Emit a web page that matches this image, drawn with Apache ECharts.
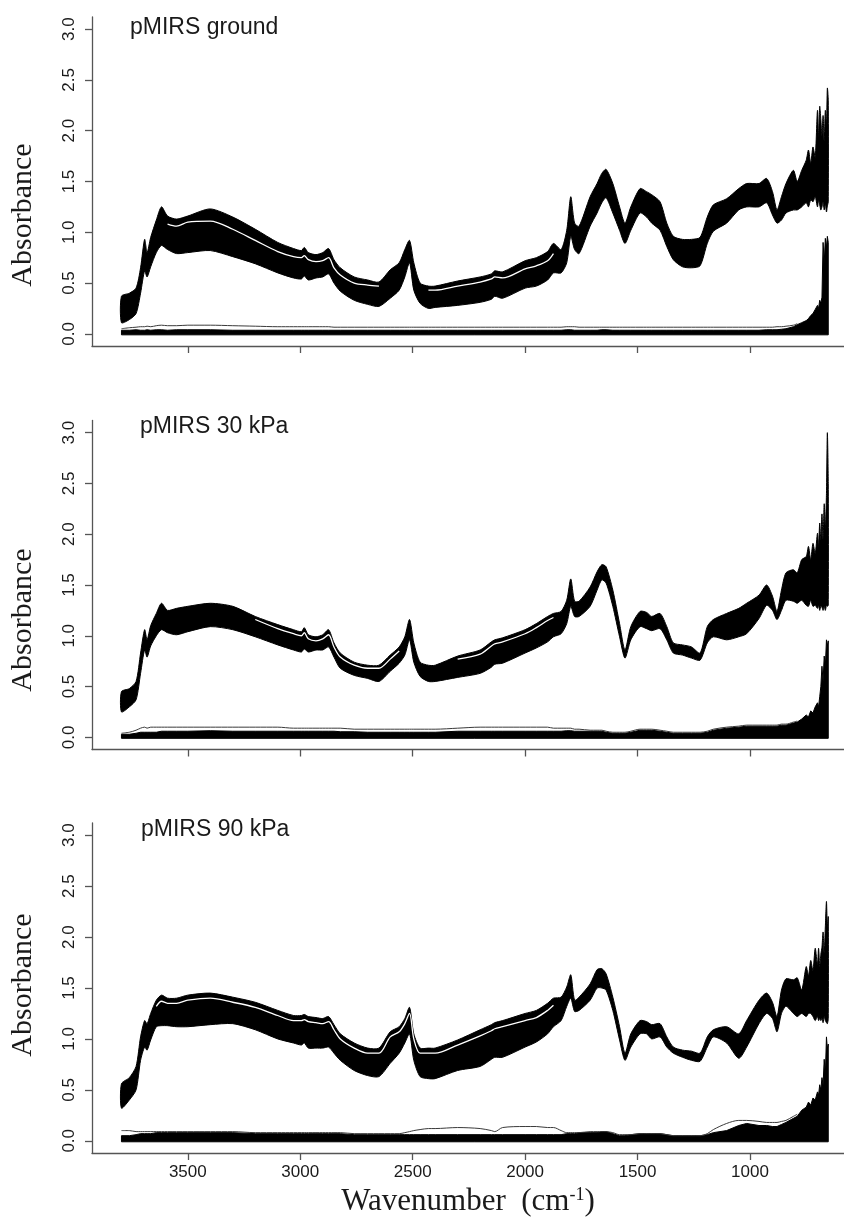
<!DOCTYPE html>
<html><head><meta charset="utf-8">
<script src="https://cdn.jsdelivr.net/npm/echarts@6/dist/echarts.min.js"></script>
<style>html,body{margin:0;padding:0;background:#fff}#c{width:844px;height:1224px}</style>
</head><body><div id="c"></div>
<script>
// ---------- data ----------
const wavenumbers = [3795, 3760, 3730, 3710, 3692, 3681, 3665, 3640, 3617, 3590,
 3550, 3500, 3400, 3300, 3200, 3100, 3030, 2995, 2982, 2964,
 2930, 2900, 2874, 2850, 2822, 2760, 2700, 2650, 2600, 2560,
 2535, 2514, 2495, 2467, 2430, 2400, 2300, 2200, 2150, 2135,
 2100, 2000, 1950, 1900, 1874, 1840, 1815, 1797, 1780, 1760,
 1711, 1680, 1659, 1640, 1610, 1580, 1556, 1530, 1489, 1460,
 1437, 1400, 1370, 1341, 1300, 1260, 1222, 1190, 1163, 1104,
 1050, 1015, 960, 926, 900, 880, 860, 840, 807, 790,
 770, 750, 740, 730, 720, 710, 700, 695, 690, 685,
 680, 675, 670, 665, 660, 656, 652];

// pMIRS ground: upper / lower envelope of the spectra band
const groundUpper = [0.37, 0.40, 0.45, 0.65, 0.93, 0.80, 0.95, 1.12, 1.25, 1.16,
 1.13, 1.16, 1.23, 1.15, 1.03, 0.90, 0.84, 0.82, 0.85, 0.80,
 0.78, 0.80, 0.84, 0.73, 0.65, 0.56, 0.53, 0.51, 0.63, 0.70,
 0.83, 0.92, 0.70, 0.50, 0.47, 0.47, 0.52, 0.56, 0.59, 0.62,
 0.61, 0.72, 0.75, 0.81, 0.89, 0.83, 1.02, 1.35, 1.09, 1.06,
 1.35, 1.48, 1.58, 1.62, 1.48, 1.25, 1.09, 1.25, 1.43, 1.40,
 1.37, 1.30, 1.09, 0.96, 0.93, 0.93, 0.95, 1.15, 1.27, 1.33,
 1.43, 1.48, 1.48, 1.53, 1.40, 1.22, 1.35, 1.48, 1.61, 1.50,
 1.61, 1.71, 1.81, 1.68, 1.84, 1.74, 2.20, 1.94, 2.24, 2.11,
 1.95, 2.15, 1.90, 2.20, 2.05, 2.42, 2.30];
const groundLower = [0.11, 0.14, 0.20, 0.40, 0.62, 0.56, 0.66, 0.80, 0.87, 0.83,
 0.79, 0.80, 0.82, 0.76, 0.69, 0.60, 0.55, 0.54, 0.57, 0.53,
 0.55, 0.56, 0.59, 0.50, 0.42, 0.33, 0.29, 0.27, 0.35, 0.43,
 0.56, 0.70, 0.43, 0.30, 0.25, 0.26, 0.28, 0.31, 0.34, 0.37,
 0.35, 0.45, 0.47, 0.53, 0.60, 0.60, 0.70, 0.96, 0.83, 0.79,
 1.06, 1.19, 1.29, 1.34, 1.19, 1.02, 0.89, 1.02, 1.19, 1.15,
 1.09, 1.02, 0.86, 0.73, 0.66, 0.65, 0.67, 0.89, 1.01, 1.09,
 1.22, 1.25, 1.25, 1.29, 1.17, 1.09, 1.12, 1.19, 1.22, 1.22,
 1.25, 1.29, 1.25, 1.32, 1.30, 1.35, 1.25, 1.32, 1.27, 1.22,
 1.25, 1.30, 1.22, 1.28, 1.20, 1.26, 1.30];
// white gaps between individual spectra inside the band (null = no visible gap)
const groundGap = [null, null, null, null, null, null, null, null, null, 1.08,
 1.06, 1.10, 1.11, 1.03, 0.92, 0.81, 0.76, 0.75, 0.77, 0.73,
 0.71, 0.72, 0.75, 0.65, 0.58, 0.50, 0.48, 0.47, null, null,
 null, null, null, null, 0.43, 0.43, 0.47, 0.51, 0.54, 0.56,
 0.55, 0.64, 0.67, 0.72, 0.79];
// residual spectra near zero: top of the dark band, and the thin outline spectrum above it
const groundNoise = [0.035, 0.035, 0.04, 0.035, 0.035, 0.04, 0.035, 0.04, 0.04, 0.035,
 0.04, 0.04, 0.04, 0.035, 0.035, 0.035, 0.035, 0.035, 0.035, 0.035,
 0.035, 0.035, 0.035, 0.035, 0.035, 0.035, 0.035, 0.035, 0.035, 0.035,
 0.035, 0.035, 0.035, 0.035, 0.035, 0.035, 0.035, 0.035, 0.035, 0.035,
 0.035, 0.035, 0.035, 0.035, 0.035, 0.035, 0.04, 0.04, 0.035, 0.035,
 0.035, 0.035, 0.04, 0.04, 0.035, 0.035, 0.035, 0.035, 0.035, 0.035,
 0.035, 0.035, 0.035, 0.035, 0.035, 0.035, 0.035, 0.035, 0.035, 0.035,
 0.035, 0.035, 0.035, 0.04, 0.04, 0.04, 0.045, 0.05, 0.07, 0.09,
 0.11, 0.13, 0.15, 0.18, 0.20, 0.24, 0.28, 0.25, 0.33, 0.30,
 0.36, 0.90, 0.70, 0.94, 0.85, 0.96, 0.90];
const groundNoiseLine = [0.05, 0.06, 0.065, 0.07, 0.07, 0.075, 0.07, 0.08, 0.085, 0.08,
 0.08, 0.085, 0.085, 0.08, 0.075, 0.07, 0.07, 0.07, 0.07, 0.07,
 0.07, 0.07, 0.07, 0.065, 0.065, 0.065, 0.065, 0.065, 0.065, 0.065,
 0.065, 0.065, 0.065, 0.065, 0.065, 0.065, 0.065, 0.065, 0.065, 0.065,
 0.065, 0.065, 0.065, 0.065, 0.065, 0.065, 0.07, 0.07, 0.07, 0.065,
 0.065, 0.065, 0.065, 0.065, 0.065, 0.065, 0.065, 0.065, 0.065, 0.065,
 0.065, 0.065, 0.065, 0.065, 0.065, 0.065, 0.065, 0.065, 0.065, 0.065,
 0.065, 0.065, 0.065, 0.065, 0.065, 0.07, 0.07, 0.075, 0.085, 0.10];

// pMIRS 30 kPa
const kpa30Upper = [0.45, 0.48, 0.55, 0.83, 1.06, 0.96, 1.10, 1.22, 1.32, 1.25,
 1.27, 1.29, 1.32, 1.29, 1.19, 1.11, 1.06, 1.04, 1.08, 1.01,
 0.99, 1.01, 1.06, 0.93, 0.83, 0.74, 0.71, 0.71, 0.81, 0.89,
 0.99, 1.16, 0.93, 0.74, 0.71, 0.71, 0.80, 0.86, 0.94, 0.96,
 0.98, 1.06, 1.12, 1.19, 1.22, 1.24, 1.35, 1.56, 1.34, 1.34,
 1.48, 1.63, 1.70, 1.68, 1.45, 1.12, 0.86, 1.09, 1.24, 1.23,
 1.19, 1.22, 1.09, 0.93, 0.91, 0.89, 0.83, 1.09, 1.16, 1.22,
 1.27, 1.32, 1.40, 1.50, 1.39, 1.24, 1.45, 1.62, 1.65, 1.62,
 1.75, 1.78, 1.88, 1.75, 1.91, 1.81, 2.01, 1.88, 2.11, 1.94,
 2.20, 1.95, 2.30, 2.05, 2.40, 3.00, 2.50];
const kpa30Lower = [0.25, 0.30, 0.37, 0.63, 0.86, 0.79, 0.90, 1.00, 1.06, 1.03,
 1.01, 1.04, 1.09, 1.06, 0.99, 0.91, 0.86, 0.84, 0.87, 0.84,
 0.86, 0.86, 0.89, 0.79, 0.68, 0.61, 0.58, 0.55, 0.65, 0.73,
 0.81, 0.96, 0.74, 0.60, 0.55, 0.55, 0.59, 0.63, 0.69, 0.72,
 0.73, 0.83, 0.88, 0.94, 0.99, 1.02, 1.12, 1.29, 1.19, 1.19,
 1.29, 1.45, 1.55, 1.52, 1.29, 0.99, 0.78, 0.96, 1.09, 1.07,
 1.05, 1.07, 0.96, 0.83, 0.81, 0.78, 0.76, 0.93, 0.99, 0.96,
 0.99, 1.02, 1.17, 1.30, 1.25, 1.16, 1.25, 1.35, 1.34, 1.32,
 1.35, 1.30, 1.29, 1.35, 1.29, 1.30, 1.27, 1.30, 1.25, 1.29,
 1.28, 1.25, 1.29, 1.25, 1.30, 1.29, 1.30];
const kpa30Gap = [null, null, null, null, null, null, null, null, null, null,
 null, null, null, null, 1.16, 1.07, 1.02, 1.00, 1.03, 0.97,
 0.95, 0.97, 1.01, 0.89, 0.79, 0.71, 0.68, 0.68, 0.77, 0.85,
 null, null, null, null, null, null, 0.77, 0.82, 0.90, 0.92,
 0.94, 1.02, 1.08, 1.15, 1.18];
const kpa30Noise = [0.03, 0.03, 0.04, 0.05, 0.05, 0.05, 0.05, 0.05, 0.06, 0.06,
 0.06, 0.06, 0.065, 0.06, 0.06, 0.06, 0.06, 0.06, 0.06, 0.06,
 0.06, 0.06, 0.06, 0.06, 0.055, 0.055, 0.05, 0.05, 0.05, 0.05,
 0.05, 0.05, 0.05, 0.05, 0.05, 0.05, 0.06, 0.06, 0.06, 0.06,
 0.06, 0.06, 0.06, 0.06, 0.06, 0.06, 0.065, 0.065, 0.06, 0.06,
 0.06, 0.06, 0.06, 0.05, 0.04, 0.04, 0.04, 0.05, 0.07, 0.07,
 0.07, 0.06, 0.05, 0.04, 0.04, 0.04, 0.04, 0.05, 0.07, 0.09,
 0.10, 0.11, 0.11, 0.11, 0.11, 0.11, 0.12, 0.12, 0.14, 0.15,
 0.18, 0.22, 0.20, 0.26, 0.24, 0.30, 0.34, 0.30, 0.40, 0.50,
 0.70, 0.55, 0.80, 0.70, 0.96, 0.90, 0.95];
const kpa30NoiseLine = [0.04, 0.05, 0.07, 0.09, 0.10, 0.09, 0.10, 0.10, 0.10, 0.10,
 0.10, 0.10, 0.10, 0.10, 0.10, 0.10, 0.09, 0.09, 0.09, 0.09,
 0.09, 0.09, 0.09, 0.09, 0.09, 0.08, 0.08, 0.08, 0.08, 0.08,
 0.08, 0.08, 0.08, 0.08, 0.08, 0.08, 0.09, 0.10, 0.10, 0.10,
 0.10, 0.10, 0.10, 0.10, 0.09, 0.09, 0.09, 0.09, 0.08, 0.08,
 0.07, 0.07, 0.07, 0.06, 0.05, 0.05, 0.05, 0.06, 0.08, 0.08,
 0.08, 0.07, 0.06, 0.05, 0.05, 0.05, 0.05, 0.06, 0.08, 0.10,
 0.11, 0.12, 0.12, 0.12, 0.12, 0.12, 0.13, 0.13, 0.15, 0.16];

// pMIRS 90 kPa
const kpa90Upper = [0.56, 0.62, 0.73, 1.02, 1.18, 1.15, 1.25, 1.38, 1.43, 1.40,
 1.40, 1.43, 1.45, 1.41, 1.36, 1.28, 1.23, 1.23, 1.24, 1.22,
 1.21, 1.20, 1.22, 1.14, 1.05, 0.96, 0.91, 0.91, 1.07, 1.12,
 1.20, 1.31, 1.05, 0.91, 0.91, 0.91, 0.99, 1.09, 1.14, 1.16,
 1.18, 1.25, 1.28, 1.35, 1.40, 1.41, 1.51, 1.63, 1.38, 1.41,
 1.54, 1.68, 1.69, 1.64, 1.41, 1.12, 0.86, 1.05, 1.18, 1.17,
 1.14, 1.15, 1.02, 0.92, 0.89, 0.88, 0.86, 1.02, 1.09, 1.12,
 1.05, 1.18, 1.38, 1.45, 1.36, 1.22, 1.48, 1.59, 1.58, 1.60,
 1.48, 1.71, 1.62, 1.77, 1.67, 1.89, 1.73, 1.89, 1.71, 1.83,
 1.90, 2.05, 1.85, 2.10, 2.35, 2.10, 2.20];
const kpa90Lower = [0.32, 0.40, 0.50, 0.79, 0.92, 0.89, 0.99, 1.12, 1.13, 1.13,
 1.12, 1.12, 1.14, 1.15, 1.09, 1.00, 0.96, 0.94, 0.96, 0.91,
 0.91, 0.91, 0.92, 0.86, 0.79, 0.69, 0.64, 0.63, 0.76, 0.86,
 0.96, 1.05, 0.79, 0.63, 0.61, 0.61, 0.69, 0.73, 0.80, 0.82,
 0.82, 0.92, 0.97, 1.05, 1.12, 1.18, 1.32, 1.40, 1.27, 1.28,
 1.38, 1.50, 1.50, 1.48, 1.28, 0.99, 0.79, 0.92, 1.05, 1.05,
 1.00, 1.02, 0.92, 0.86, 0.82, 0.79, 0.78, 0.92, 1.02, 0.96,
 0.81, 0.92, 1.15, 1.25, 1.20, 1.07, 1.25, 1.32, 1.25, 1.22,
 1.25, 1.22, 1.25, 1.25, 1.22, 1.18, 1.22, 1.18, 1.20, 1.18,
 1.20, 1.16, 1.22, 1.18, 1.16, 1.15, 1.20];
const kpa90Gap = [null, null, null, null, null, null, null, 1.32, 1.37, 1.35,
 1.35, 1.38, 1.40, 1.36, 1.31, 1.23, 1.18, 1.18, 1.19, 1.17,
 1.16, 1.15, 1.17, 1.09, 1.00, 0.91, 0.86, 0.86, 1.02, 1.07,
 1.15, 1.25, 1.00, 0.86, 0.86, 0.86, 0.94, 1.03, 1.08, 1.10,
 1.12, 1.18, 1.21, 1.28, 1.33];
const kpa90Noise = [0.05, 0.05, 0.06, 0.07, 0.07, 0.07, 0.07, 0.08, 0.08, 0.08,
 0.08, 0.08, 0.08, 0.08, 0.07, 0.07, 0.07, 0.07, 0.07, 0.07,
 0.07, 0.07, 0.07, 0.07, 0.07, 0.06, 0.06, 0.06, 0.06, 0.06,
 0.06, 0.06, 0.06, 0.06, 0.06, 0.06, 0.06, 0.06, 0.06, 0.06,
 0.06, 0.06, 0.06, 0.06, 0.06, 0.06, 0.07, 0.07, 0.07, 0.08,
 0.08, 0.08, 0.09, 0.09, 0.07, 0.05, 0.05, 0.06, 0.07, 0.07,
 0.07, 0.07, 0.06, 0.05, 0.05, 0.05, 0.05, 0.06, 0.08, 0.10,
 0.15, 0.17, 0.15, 0.15, 0.14, 0.14, 0.16, 0.18, 0.22, 0.24,
 0.30, 0.33, 0.38, 0.35, 0.42, 0.40, 0.48, 0.45, 0.55, 0.50,
 0.62, 0.55, 0.80, 0.65, 1.02, 0.90, 0.95];
const kpa90NoiseLine = [0.10, 0.10, 0.09, 0.09, 0.09, 0.09, 0.09, 0.09, 0.09, 0.09,
 0.09, 0.09, 0.09, 0.09, 0.08, 0.08, 0.08, 0.08, 0.08, 0.08,
 0.08, 0.08, 0.08, 0.08, 0.08, 0.07, 0.07, 0.07, 0.07, 0.07,
 0.08, 0.09, 0.10, 0.11, 0.12, 0.12, 0.13, 0.12, 0.10, 0.09,
 0.13, 0.14, 0.14, 0.13, 0.13, 0.10, 0.08, 0.08, 0.08, 0.08,
 0.09, 0.09, 0.09, 0.09, 0.08, 0.06, 0.06, 0.06, 0.07, 0.07,
 0.07, 0.07, 0.06, 0.05, 0.05, 0.05, 0.05, 0.07, 0.11, 0.17,
 0.20, 0.20, 0.19, 0.18, 0.18, 0.18, 0.19, 0.20, 0.24, 0.26];

const noiseFloor = -0.01;
const panelTitles = ['pMIRS ground', 'pMIRS 30 kPa', 'pMIRS 90 kPa'];
const xTicks = [3500, 3000, 2500, 2000, 1500, 1000];
const yTicks = [0, 0.5, 1, 1.5, 2, 2.5, 3];
const yAxisTitle = 'Absorbance';
const xAxisTitle = 'Wavenumber  (cm{sup|-1})';

// ---------- layout ----------
const panels = [
  {upper: groundUpper, lower: groundLower, gap: groundGap, noise: groundNoise, noiseLine: groundNoiseLine},
  {upper: kpa30Upper, lower: kpa30Lower, gap: kpa30Gap, noise: kpa30Noise, noiseLine: kpa30NoiseLine},
  {upper: kpa90Upper, lower: kpa90Lower, gap: kpa90Gap, noise: kpa90Noise, noiseLine: kpa90NoiseLine}
];
const gridBoxes = [
  {left: 92, width: 752, top: 17, height: 329},
  {left: 92, width: 752, top: 420.5, height: 329},
  {left: 92, width: 752, top: 823, height: 330}
];
const titlePos = [[130, 28], [140, 427], [141, 830]];
const yTitlePos = [[23, 215], [23, 620], [23, 985]];

const AX = '#555', TXT = '#1a1a1a';
const sans = '"Liberation Sans", Arial, sans-serif';
const serif = '"Liberation Serif", "Times New Roman", serif';

function bandSeries(i, upper, lower, smooth) {
  return {
    type: 'custom', xAxisIndex: i, yAxisIndex: i, silent: true, clip: true,
    data: [[wavenumbers[0], upper[0]]], encode: {x: 0, y: 1},
    renderItem: function (params, api) {
      const n = Math.min(wavenumbers.length, upper.length);
      const pts = [];
      for (let k = 0; k < n; k++) pts.push(api.coord([wavenumbers[k], upper[k]]));
      if (lower) {
        for (let k = n - 1; k >= 0; k--) pts.push(api.coord([wavenumbers[k], lower[k]]));
      } else {
        pts.push(api.coord([wavenumbers[n - 1], noiseFloor]));
        pts.push(api.coord([wavenumbers[0], noiseFloor]));
      }
      const shape = {points: pts};
      if (smooth) shape.smooth = smooth;
      return {type: 'polygon', shape: shape,
        style: {fill: '#000', stroke: '#000', lineWidth: 1}};
    }
  };
}
function lineSeries(i, values, color, width) {
  return {
    type: 'line', xAxisIndex: i, yAxisIndex: i, symbol: 'none', silent: true,
    smooth: 0.3, connectNulls: false,
    lineStyle: {color: color, width: width},
    data: values.map(function (v, k) { return [wavenumbers[k], v]; })
  };
}

const grid = [], xAxis = [], yAxis = [], series = [], graphic = [];
panels.forEach(function (p, i) {
  grid.push(Object.assign({containLabel: false}, gridBoxes[i]));
  xAxis.push({
    type: 'value', gridIndex: i, inverse: true, min: 582, max: 3926,
    axisLine: {show: true, onZero: false, lineStyle: {color: AX, width: 1.3}},
    axisTick: {show: true, length: 7, customValues: xTicks, lineStyle: {color: AX, width: 1.3}},
    axisLabel: {show: i === 2, customValues: xTicks, margin: 11, fontSize: 17, color: TXT, fontFamily: sans,
      formatter: function (v) { return String(v); }},
    splitLine: {show: false},
    name: i === 2 ? xAxisTitle : '', nameLocation: 'middle', nameGap: 33,
    nameTextStyle: {fontFamily: serif, fontSize: 31, color: TXT,
      rich: {sup: {fontFamily: serif, fontSize: 18, color: TXT, verticalAlign: 'top'}}}
  });
  yAxis.push({
    type: 'value', gridIndex: i, min: -0.12, max: 3.12,
    axisLine: {show: true, onZero: false, lineStyle: {color: AX, width: 1.3}},
    axisTick: {show: true, length: 7, customValues: yTicks, lineStyle: {color: AX, width: 1.3}},
    axisLabel: {customValues: yTicks, rotate: 90, margin: 14, fontSize: 17, color: TXT, fontFamily: sans,
      formatter: function (v) { return v.toFixed(1); }},
    splitLine: {show: false}
  });
  series.push(bandSeries(i, p.upper, p.lower, 0.25));
  series.push(lineSeries(i, p.gap, '#fff', 1.3));
  series.push(lineSeries(i, p.noiseLine, '#3a3a3a', 1));
  series.push(bandSeries(i, p.noise, null, 0));
  graphic.push({type: 'text', x: titlePos[i][0], y: titlePos[i][1],
    style: {text: panelTitles[i], fontSize: 23, fontFamily: sans, fill: TXT, align: 'left', verticalAlign: 'middle'}});
  graphic.push({type: 'text', x: yTitlePos[i][0], y: yTitlePos[i][1], rotation: Math.PI / 2,
    style: {text: yAxisTitle, fontSize: 30, fontFamily: serif, fill: TXT, align: 'center', verticalAlign: 'middle'}});
});

const chart = echarts.init(document.getElementById('c'), null, {renderer: 'canvas'});
chart.setOption({
  backgroundColor: '#fff', animation: false,
  grid: grid, xAxis: xAxis, yAxis: yAxis, series: series, graphic: graphic
});
</script>
</body></html>
